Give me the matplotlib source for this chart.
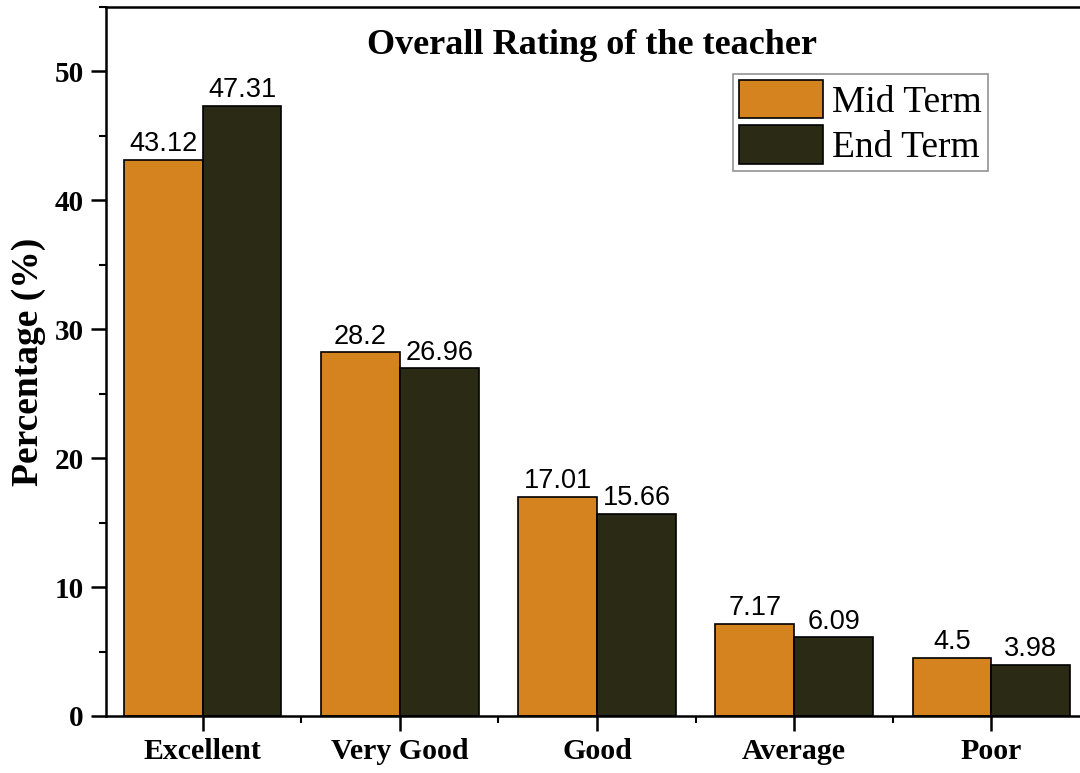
import matplotlib.pyplot as plt
import numpy as np
from matplotlib.ticker import MultipleLocator

categories = ["Excellent", "Very Good", "Good", "Average", "Poor"]
mid_term = [43.12, 28.2, 17.01, 7.17, 4.5]
end_term = [47.31, 26.96, 15.66, 6.09, 3.98]
mid_labels = ["43.12", "28.2", "17.01", "7.17", "4.5"]
end_labels = ["47.31", "26.96", "15.66", "6.09", "3.98"]

serif = ["Liberation Serif", "DejaVu Serif"]
sans = ["Liberation Sans", "DejaVu Sans"]

fig = plt.figure(figsize=(10.8, 7.73), dpi=100)
# right edge of the axes runs past the picture, as in the scan
ax = fig.add_axes([106 / 1080, 57 / 773, 982 / 1080, 709 / 773])

x = np.arange(len(categories))
w = 0.4
b1 = ax.bar(x - w / 2, mid_term, w, color="#D4831F", edgecolor="black",
            linewidth=1.2, label="Mid Term")
b2 = ax.bar(x + w / 2, end_term, w, color="#2B2A15", edgecolor="black",
            linewidth=1.2, label="End Term")
ax.bar_label(b1, labels=mid_labels, padding=2, fontsize=19.5, family=sans)
ax.bar_label(b2, labels=end_labels, padding=2, fontsize=19.5, family=sans)

ax.set_xlim(-0.49, 4.49)
ax.set_ylim(0, 55)
ax.set_xticks(x)
ax.set_xticklabels(categories, family=serif, fontweight="bold", fontsize=21.5)
ax.xaxis.set_minor_locator(MultipleLocator(1, offset=0.5))
ax.yaxis.set_major_locator(MultipleLocator(10))
ax.yaxis.set_minor_locator(MultipleLocator(5))
for lab in ax.get_yticklabels():
    lab.set_family(serif)
    lab.set_fontweight("bold")
    lab.set_fontsize(21)

ax.tick_params(which="major", direction="out", length=11, width=1.8, pad=5)
ax.tick_params(which="minor", direction="out", length=5, width=1.5)
for s in ax.spines.values():
    s.set_linewidth(1.8)

ax.set_ylabel("Percentage (%)", family=serif, fontweight="bold", fontsize=27,
              labelpad=6)
ax.text(0.495, 0.945, "Overall Rating of the teacher", transform=ax.transAxes,
        ha="center", va="center", family=serif, fontweight="bold", fontsize=26)

leg = ax.legend(loc="upper left", bbox_to_anchor=(627 / 982, 0.905),
                prop={"family": serif, "size": 27}, frameon=True, fancybox=False,
                edgecolor="#777777", handlelength=2.25, handleheight=1.2,
                handletextpad=0.25, borderpad=0.15, labelspacing=0.15,
                borderaxespad=0)
leg.get_frame().set_linewidth(1.2)

fig.savefig("out.png", dpi=100)
